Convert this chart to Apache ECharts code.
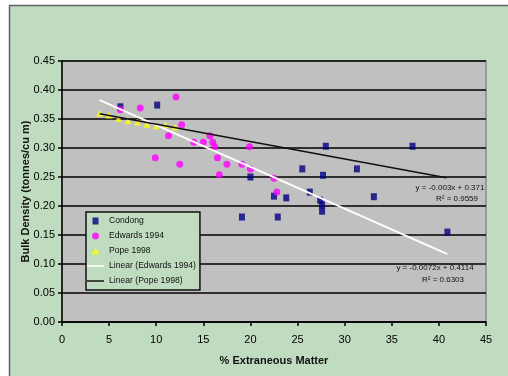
<!DOCTYPE html>
<html>
<head>
<meta charset="utf-8">
<script src="https://cdn.jsdelivr.net/npm/echarts@6/dist/echarts.min.js"></script>
<style>
  html, body { margin: 0; padding: 0; background: #ffffff; }
  #chart { width: 508px; height: 376px; }
</style>
</head>
<body>
<div id="chart"></div>
<script>
// Condong samples: % extraneous matter vs bulk density
const condongX = [6.2, 10.1, 20.0, 28.0, 37.2, 25.5, 27.7, 31.3, 22.5, 23.8, 26.3, 27.4, 27.6, 27.6, 19.1, 22.9, 33.1, 40.9];
const condongY = [0.371, 0.374, 0.250, 0.303, 0.303, 0.264, 0.253, 0.264, 0.217, 0.214, 0.224, 0.210, 0.202, 0.191, 0.181, 0.181, 0.216, 0.155];

// Edwards 1994 samples
const edwardsX = [6.2, 8.3, 12.1, 12.7, 11.3, 9.9, 12.5, 14.0, 15.0, 15.7, 16.0, 16.2, 16.5, 17.5, 16.7, 19.9, 19.1, 20.0, 22.5, 22.8];
const edwardsY = [0.366, 0.369, 0.388, 0.340, 0.321, 0.283, 0.272, 0.310, 0.310, 0.321, 0.310, 0.302, 0.283, 0.272, 0.254, 0.302, 0.272, 0.264, 0.248, 0.224];

// Pope 1998 samples
const popeX = [4, 5, 6, 7, 8, 9, 10, 11, 12];
const popeY = [0.360, 0.357, 0.351, 0.347, 0.345, 0.341, 0.338, 0.340, 0.336];

// Linear fits: [slope, intercept] and the x-span each line is drawn over
const edwardsFit = [-0.0072, 0.4114];
const edwardsFitSpan = [4, 40.9];
const popeFit = [-0.003, 0.371];
const popeFitSpan = [4, 40.8];

// Fit annotations
const edwardsEqText = ['y = -0.0072x + 0.4114', 'R² = 0.6303'];
const popeEqText = ['y = -0.003x + 0.371', 'R² = 0.9559'];

// Axis settings
const xAxisRange = [0, 45, 5];
const yAxisRange = [0, 0.45, 0.05];

const zip = (xs, ys) => xs.map((x, i) => [x, ys[i]]);
const fitLine = (coef, span) => span.map(x => [x, coef[0] * x + coef[1]]);

const FONT = '"Liberation Sans", Arial, sans-serif';

// Legend glyphs (path icons keep their aspect ratio inside the legend cell)
const ICON_SQUARE = 'path://M0,0L6,0L6,7L0,7Z';
const ICON_TRIANGLE = 'path://M4,0L8,7L0,7Z';
const ICON_LINE = 'path://M0,0L40,0L40,3.5L0,3.5Z';

const chart = echarts.init(document.getElementById('chart'), null, { renderer: 'canvas' });

const eqText = (txt, x, y) => ({
  type: 'text', z: 100, x: x, y: y,
  style: { text: txt, font: '8px ' + FONT, fill: '#111', align: 'center', verticalAlign: 'middle' }
});

chart.setOption({
  animation: false,
  backgroundColor: '#ffffff',
  graphic: {
    elements: [
      {
        type: 'rect', z: -100, silent: true,
        shape: { x: 9.5, y: 5.5, width: 520, height: 400 },
        style: { fill: '#c0dcc0', stroke: '#606060', lineWidth: 1.5 }
      },
      eqText(popeEqText[0], 450, 188),
      eqText(popeEqText[1], 457, 199),
      eqText(edwardsEqText[0], 435, 268),
      eqText(edwardsEqText[1], 443, 280)
    ]
  },
  grid: {
    left: 62, right: 22, top: 61, bottom: 54,
    show: true,
    backgroundColor: '#c0c0c0',
    borderColor: '#8a8a8a',
    borderWidth: 1.5
  },
  legend: {
    orient: 'vertical',
    left: 86, top: 212,
    backgroundColor: '#c0dcc0',
    borderColor: '#111',
    borderWidth: 1.5,
    padding: [3, 4, 3, 1],
    itemWidth: 17,
    itemHeight: 7,
    itemGap: 3,
    textStyle: { fontFamily: FONT, fontSize: 8.6, color: '#111', lineHeight: 12 },
    data: [
      { name: 'Condong', icon: ICON_SQUARE },
      { name: 'Edwards 1994', icon: 'circle' },
      { name: 'Pope 1998', icon: ICON_TRIANGLE },
      { name: 'Linear (Edwards 1994)', icon: ICON_LINE },
      { name: 'Linear (Pope 1998)', icon: ICON_LINE }
    ]
  },
  xAxis: {
    type: 'value',
    min: xAxisRange[0], max: xAxisRange[1], interval: xAxisRange[2],
    name: '% Extraneous Matter',
    nameLocation: 'middle',
    nameGap: 33,
    nameTextStyle: { fontFamily: FONT, fontSize: 11, fontWeight: 'bold', color: '#111' },
    axisLine: { show: true, onZero: false, lineStyle: { color: '#000', width: 1.5 } },
    axisTick: { show: true, length: 4, lineStyle: { color: '#000', width: 1.5 } },
    axisLabel: { fontFamily: FONT, fontSize: 11, color: '#000', margin: 12 },
    splitLine: { show: false }
  },
  yAxis: {
    type: 'value',
    min: yAxisRange[0], max: yAxisRange[1], interval: yAxisRange[2],
    name: 'Bulk Density (tonnes/cu m)',
    nameLocation: 'middle',
    nameGap: 31,
    nameMoveOverlap: false,
    nameTextStyle: { fontFamily: FONT, fontSize: 11, fontWeight: 'bold', color: '#111' },
    axisLine: { show: true, onZero: false, lineStyle: { color: '#000', width: 1.5 } },
    axisTick: { show: true, length: 4, lineStyle: { color: '#000', width: 1.5 } },
    axisLabel: { fontFamily: FONT, fontSize: 11, color: '#000', margin: 7, formatter: v => v.toFixed(2) },
    splitLine: { show: true, lineStyle: { color: '#000', width: 1.6 } }
  },
  series: [
    {
      name: 'Condong', type: 'scatter', symbol: 'rect', symbolSize: [6, 7],
      itemStyle: { color: '#000080' },
      data: zip(condongX, condongY), z: 3
    },
    {
      name: 'Edwards 1994', type: 'scatter', symbol: 'circle', symbolSize: 7,
      itemStyle: { color: '#ff00ff' },
      data: zip(edwardsX, edwardsY), z: 4
    },
    {
      name: 'Pope 1998', type: 'scatter', symbol: 'triangle', symbolSize: 7,
      itemStyle: { color: '#ffff00' },
      data: zip(popeX, popeY), z: 5
    },
    {
      name: 'Linear (Edwards 1994)', type: 'line', symbol: 'none',
      lineStyle: { color: '#ffffff', width: 2 },
      itemStyle: { color: '#ffffff' },
      data: fitLine(edwardsFit, edwardsFitSpan), z: 6
    },
    {
      name: 'Linear (Pope 1998)', type: 'line', symbol: 'none',
      lineStyle: { color: '#111111', width: 1.6 },
      itemStyle: { color: '#111111' },
      data: fitLine(popeFit, popeFitSpan), z: 6
    }
  ]
});
</script>
</body>
</html>
